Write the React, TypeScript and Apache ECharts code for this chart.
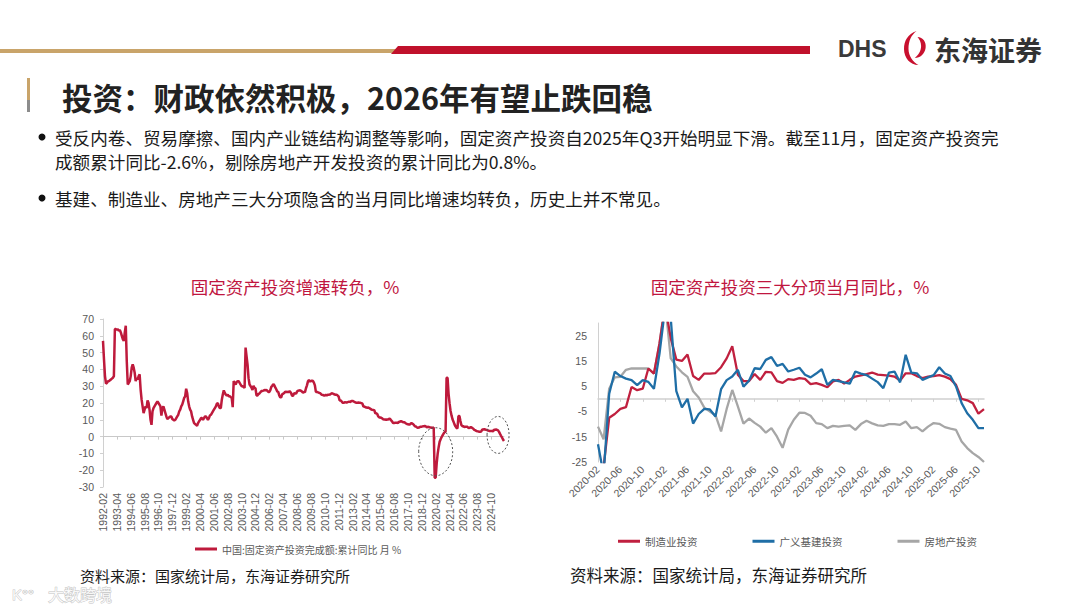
import React, { useEffect, useRef } from "react";
import * as echarts from "echarts";

// ---------- Left chart: FAI cumulative YoY (%), monthly from 1992-02 ----------
const fai1990s = [
  57, 46, 36, 31.5, 32, 33, 33, 33.5, 34, 34.5, 35,
  36, 64, 64, 63.5, 64, 63, 63.5, 62, 60, 58, 57, 62,
  66, 45, 31, 32, 33, 36, 41, 43, 41, 38, 33, 35,
  34, 36, 37, 28, 22, 18, 14, 16, 18, 17, 21.5, 20,
  16, 10, 7, 15, 17, 18, 19, 20, 21, 20, 19, 18,
  12.5, 17, 18, 16, 14, 12, 10.5, 11, 11.5, 12, 12, 10.5,
  10, 9.6, 10, 11, 12, 13, 15, 16, 18, 19, 21, 23,
  24, 28.5, 26, 21, 18, 16, 15, 12, 10, 8, 7.5, 7,
];
const fai2000s = [
  6.5, 8, 9, 10, 11, 11, 10, 11, 12, 12, 11, 10,
  11, 12.6, 13, 14, 15, 16, 17, 18, 19.6, 20, 18, 17,
  17, 22, 25, 27.5, 26, 25, 24.5, 25, 24, 24, 23.5, 23,
  17.5, 33, 32, 31, 32.5, 33, 33, 32, 31, 30, 30, 29.5,
  29, 53, 47.8, 42.8, 34.8, 31, 30.1, 29.1, 27.7, 30.3, 28.9, 28.8,
  24.5, 24.5, 25.3, 25.7, 26.4, 27.1, 27.2, 27.4, 27.7, 27.6, 27.8, 27.2,
  26.6, 26.6, 27.7, 29.6, 30.3, 31.3, 30.5, 29.3, 28.2, 26.8, 26.6, 24.5,
  23.4, 23.4, 25.3, 25.5, 25.9, 26.7, 26.6, 26.7, 26.4, 26.9, 26.8, 25.8,
  24.3, 24.3, 25.9, 25.7, 25.6, 26.8, 27.3, 27.4, 27.6, 27.2, 26.8, 26.1,
  26.5, 26.5, 28.8, 30.5, 32.9, 33.6, 32.9, 33.0, 33.3, 33.1, 32.1, 30.5,
];
const fai2010s = [
  26.6, 26.6, 26.4, 26.1, 25.9, 25.5, 24.9, 24.8, 24.5, 24.4, 24.9, 24.5,
  24.9, 24.9, 25.0, 25.4, 25.8, 25.6, 25.4, 25.0, 24.9, 24.9, 24.5, 23.8,
  21.5, 21.5, 20.9, 20.2, 20.1, 20.4, 20.4, 20.2, 20.5, 20.7, 20.7, 20.6,
  21.2, 21.2, 20.9, 20.6, 20.4, 20.1, 20.1, 20.3, 20.2, 20.1, 19.9, 19.6,
  17.9, 17.9, 17.6, 17.3, 17.2, 17.3, 17.0, 16.5, 16.1, 15.9, 15.8, 15.7,
  13.9, 13.9, 13.5, 12.0, 11.4, 11.4, 11.2, 10.9, 10.3, 10.2, 10.2, 10.0,
  10.2, 10.2, 10.7, 10.5, 9.6, 9.0, 8.1, 8.1, 8.2, 8.3, 8.3, 8.1,
  8.9, 8.9, 9.2, 8.9, 8.6, 8.6, 8.3, 7.8, 7.5, 7.3, 7.2, 7.2,
  7.9, 7.9, 7.5, 7.0, 6.1, 6.0, 5.5, 5.3, 5.4, 5.7, 5.9, 5.9,
  6.1, 6.1, 6.3, 6.1, 5.6, 5.8, 5.7, 5.5, 5.4, 5.2, 5.2, 5.4,
];
const fai2020s = [
  -24.5, -24.5, -16.1, -10.3, -6.3, -3.1, -1.6, -0.3, 0.8, 1.8, 2.6, 2.9,
  35.0, 35.0, 25.6, 19.9, 15.4, 12.6, 10.3, 8.9, 7.3, 6.1, 5.2, 4.9,
  12.2, 12.2, 9.3, 6.8, 6.2, 6.1, 5.7, 5.8, 5.9, 5.8, 5.3, 5.1,
  5.5, 5.5, 5.1, 4.7, 4.0, 3.8, 3.4, 3.2, 3.1, 2.9, 2.9, 3.0,
  4.2, 4.2, 4.5, 4.2, 4.0, 3.9, 3.6, 3.4, 3.4, 3.4, 3.3, 3.2,
  4.1, 4.1, 4.2, 4.0, 3.7, 2.8, 1.6, 0.5, -0.5, -1.7, -2.6,
];
const faiValues = [...fai1990s, ...fai2000s, ...fai2010s, ...fai2020s];
const leftStart = { year: 1992, month: 2 };
const leftSeriesName = "中国:固定资产投资完成额:累计同比 月 %";
const leftYTicks = { min: -30, max: 70, interval: 10 };

// ---------- Right chart: three components, monthly YoY (%), from 2020-02 ----------
const manufacturing = [
  -31.5, -27, -7.5, -6, -4, -3.3, 4.7, 3.4, 4, 12, 10, 22, 37, 24, 15.5, 15, 17.5, 9, 7.5, 10,
  10, 10.2, 12.5, 16, 20.8, 9.5, 7, 7, 9.8, 7.5, 10.7, 10.5, 7, 6.3, 7.8, 7.5, 8.2, 7.9, 5.8, 6.2,
  5.5, 4.6, 6.9, 7.5, 6, 7.5, 8.8, 9.3, 9.8, 10.4, 9.6, 9.4, 9.2, 8.8, 7.2, 10.1, 10.1, 9, 8.2, 8.8,
  9, 9.4, 8.8, 7.8, 5.5, 0, -0.6, -1.7, -5.9, -4.1,
];
const infrastructure = [
  -18, -30, 2, 10.7, 9, 8, 7.4, 5.4, 7.4, 6.7, 4, 18, 36, 32, 3, -3.4, 0, -9.8, -6, -4,
  -4.2, -7, 3.8, 7.4, 8.8, 11.5, 4.8, 7.2, 12.1, 11.8, 15.4, 16.5, 13, 13.8, 10.8, 11.5, 12.3, 9.5, 8.5, 10,
  11.7, 5.5, 7.5, 7, 6.5, 6, 10.8, 10, 9.4, 8, 6.6, 4.2, 10.4, 10.8, 6.5, 17.4, 10.4, 10.1, 7.5, 8.5,
  9.4, 12.5, 10, 9, 4.9, -1.7, -5.7, -8.3, -11.6, -11.6,
];
const realEstate = [
  -11, -16, 4, 8.5, 8.7, 11.5, 12, 12, 12, 12, 10, 22, 38, 16, 12.8, 10.5, 8.7, 3, 0.5, -3.5,
  -5, -6.5, -12.9, -4, 3.5, -3, -9.8, -7.8, -9.5, -11, -13.4, -11.6, -15, -19.4, -12.2, -8.3, -5.5, -5.6, -6.7, -9.6,
  -10, -11.6, -10.7, -11, -10.7, -10.5, -12.3, -10, -8.7, -9.7, -10.5, -10.7, -10, -10, -10.3, -9, -11.6, -11.2, -12.9, -11,
  -9.6, -9.9, -11.2, -11.8, -12.3, -16.9, -19.5, -21.5, -23, -25,
];
const rightStart = { year: 2020, month: 2 };
const rightSeriesNames = ["制造业投资", "广义基建投资", "房地产投资"];
const rightYTicks = { min: -25, max: 30, interval: 10 };

// ---------- Texts ----------
const pageTitle = "投资：财政依然积极，2026年有望止跌回稳";
const bulletLines = [
  "受反内卷、贸易摩擦、国内产业链结构调整等影响，固定资产投资自2025年Q3开始明显下滑。截至11月，固定资产投资完",
  "成额累计同比-2.6%，剔除房地产开发投资的累计同比为0.8%。",
  "基建、制造业、房地产三大分项隐含的当月同比增速均转负，历史上并不常见。",
];
const leftChartTitle = "固定资产投资增速转负，%";
const rightChartTitle = "固定资产投资三大分项当月同比，%";
const sourceText = "资料来源：国家统计局，东海证券研究所";

function monthLabels(start: { year: number; month: number }, n: number): string[] {
  const out: string[] = [];
  let y = start.year;
  let m = start.month;
  for (let i = 0; i < n; i++) {
    out.push(`${y}-${String(m).padStart(2, "0")}`);
    m += 1;
    if (m > 12) {
      m = 1;
      y += 1;
    }
  }
  return out;
}

const leftCategories = monthLabels(leftStart, faiValues.length);
const rightCategories = monthLabels(rightStart, manufacturing.length);

const CJK = '"Noto Sans CJK SC", "Noto Sans", sans-serif';
const NUM = 'Arial, "Liberation Sans", sans-serif';
const RED = "#BE1A3C";
const BLUE = "#1F6EA6";
const GRAY = "#A6A6A6";
const AXIS = "#C8C8C8";
const LABEL = "#595959";

echarts.graphic.registerShape(
  "dhsLogo",
  echarts.graphic.extendPath(
    "M 14 0 C 4 3 0 10 0 18 C 0 27 7 34 16 34 C 10 31 5 25 5 18 C 5 10 8 4 14 0 Z M 15 6 C 21 6 25 11 24 17 C 23 23 18 27 12 27 C 16 24 19 20 19 15 C 19 11 17 8 15 6 Z",
    {}
  )
);

export default function App() {
  const ref = useRef<HTMLDivElement>(null);

  useEffect(() => {
    if (!ref.current) return;
    const chart = echarts.init(ref.current, undefined, { renderer: "svg" });

    const staticGraphics: any[] = [
      { type: "rect", shape: { x: 0, y: 49, width: 396, height: 4 }, style: { fill: "#C9A46A" } },
      {
        type: "polygon",
        shape: { points: [[391, 54], [398, 46], [810, 46], [810, 54]] },
        style: { fill: "#C0112B" },
      },
      {
        type: "text",
        x: 838,
        y: 49,
        style: { text: "DHS", fontSize: 23, fontWeight: "bold", fontFamily: NUM, fill: "#3A3A3A", verticalAlign: "middle" },
      },
      { type: "dhsLogo", x: 904, y: 31, scaleX: 0.9, scaleY: 1, style: { fill: "#C8102E" } },
      {
        type: "text",
        x: 934,
        y: 49,
        style: { text: "东海证券", fontSize: 27, fontWeight: "bold", fontFamily: CJK, fill: "#333333", verticalAlign: "middle" },
      },
      { type: "rect", shape: { x: 27, y: 78, width: 3, height: 22 }, style: { fill: "#C9A46A" } },
      { type: "rect", shape: { x: 27, y: 100, width: 3, height: 12 }, style: { fill: "#8C8C8C" } },
      {
        type: "text",
        x: 62,
        y: 97,
        style: { text: pageTitle, fontSize: 30.5, fontWeight: "bold", fontFamily: CJK, fill: "#222222", verticalAlign: "middle" },
      },
      { type: "circle", shape: { cx: 42, cy: 137, r: 3.5 }, style: { fill: "#111111" } },
      { type: "circle", shape: { cx: 42, cy: 198, r: 3.5 }, style: { fill: "#111111" } },
      {
        type: "text",
        x: 55,
        y: 137,
        style: { text: bulletLines[0], fontSize: 17.6, fontFamily: CJK, fill: "#1A1A1A", verticalAlign: "middle" },
      },
      {
        type: "text",
        x: 55,
        y: 161,
        style: { text: bulletLines[1], fontSize: 17.6, fontFamily: CJK, fill: "#1A1A1A", verticalAlign: "middle" },
      },
      {
        type: "text",
        x: 55,
        y: 198,
        style: { text: bulletLines[2], fontSize: 17.6, fontFamily: CJK, fill: "#1A1A1A", verticalAlign: "middle" },
      },
      {
        type: "text",
        x: 295,
        y: 286,
        style: { text: leftChartTitle, fontSize: 17.5, fontFamily: CJK, fill: "#C0163F", align: "center", verticalAlign: "middle" },
      },
      {
        type: "text",
        x: 790,
        y: 286,
        style: { text: rightChartTitle, fontSize: 17.5, fontFamily: CJK, fill: "#C0163F", align: "center", verticalAlign: "middle" },
      },
      {
        type: "text",
        x: 80,
        y: 575,
        style: { text: sourceText, fontSize: 15, fontFamily: CJK, fill: "#1A1A1A", verticalAlign: "middle" },
      },
      {
        type: "text",
        x: 570,
        y: 575,
        style: { text: sourceText, fontSize: 16.5, fontFamily: CJK, fill: "#1A1A1A", verticalAlign: "middle" },
      },
      {
        type: "text",
        x: 12,
        y: 594,
        style: { text: "K°°", fontSize: 15, fontFamily: NUM, fill: "#FFFFFF", stroke: "#BDBDBD", lineWidth: 1, verticalAlign: "middle", opacity: 0.9 },
      },
      {
        type: "text",
        x: 48,
        y: 594,
        style: { text: "大数跨境", fontSize: 16, fontFamily: CJK, fill: "#FFFFFF", stroke: "#BDBDBD", lineWidth: 1, verticalAlign: "middle", opacity: 0.9 },
      },
    ];

    const option: any = {
      animation: false,
      backgroundColor: "#FFFFFF",
      grid: [
        { left: 103, top: 319, width: 401, height: 168 },
        { left: 598, top: 323, width: 386, height: 139 },
      ],
      xAxis: [
        {
          type: "category",
          gridIndex: 0,
          position: "bottom",
          data: leftCategories,
          boundaryGap: false,
          axisLine: { show: false, onZero: false },
          axisTick: { show: false },
          axisLabel: { interval: 13, rotate: 90, fontSize: 10.5, color: LABEL, fontFamily: NUM, margin: 6 },
        },
        {
          type: "category",
          gridIndex: 0,
          position: "bottom",
          data: leftCategories,
          boundaryGap: false,
          axisLine: { show: true, onZero: true, lineStyle: { color: AXIS, width: 1 } },
          axisTick: { show: true, interval: 13, length: 3, lineStyle: { color: AXIS } },
          axisLabel: { show: false },
        },
        {
          type: "category",
          gridIndex: 1,
          position: "bottom",
          data: rightCategories,
          boundaryGap: false,
          axisLine: { show: false, onZero: false },
          axisTick: { show: false },
          axisLabel: { interval: 3, rotate: 45, fontSize: 10.5, color: LABEL, fontFamily: NUM, margin: 6 },
        },
        {
          type: "category",
          gridIndex: 1,
          position: "bottom",
          data: rightCategories,
          boundaryGap: false,
          axisLine: { show: true, onZero: true, lineStyle: { color: "#D0D0D0", width: 1.5 } },
          axisTick: { show: true, interval: 3, length: 3, lineStyle: { color: "#D0D0D0" } },
          axisLabel: { show: false },
        },
      ],
      yAxis: [
        {
          type: "value",
          gridIndex: 0,
          min: leftYTicks.min,
          max: leftYTicks.max,
          interval: leftYTicks.interval,
          splitLine: { show: false },
          axisLine: { show: true, lineStyle: { color: "#D0D0D0" } },
          axisTick: { show: true, length: 3, lineStyle: { color: "#D0D0D0" } },
          axisLabel: { fontSize: 10.5, color: LABEL, fontFamily: NUM, margin: 9 },
        },
        {
          type: "value",
          gridIndex: 1,
          min: rightYTicks.min,
          max: rightYTicks.max,
          interval: rightYTicks.interval,
          splitLine: { show: false },
          axisLine: { show: true, lineStyle: { color: "#D0D0D0" } },
          axisTick: { show: false },
          axisLabel: { fontSize: 10.5, color: LABEL, fontFamily: NUM, margin: 11, showMaxLabel: false },
        },
      ],
      legend: [
        {
          data: [leftSeriesName],
          left: 190,
          top: 539,
          icon: "rect",
          itemWidth: 22,
          itemHeight: 3,
          itemGap: 6,
          textStyle: { fontSize: 10, color: LABEL, fontFamily: CJK },
        },
        {
          data: rightSeriesNames,
          left: 613,
          top: 531,
          icon: "rect",
          itemWidth: 22,
          itemHeight: 3,
          itemGap: 55,
          textStyle: { fontSize: 10.5, color: LABEL, fontFamily: CJK },
        },
      ],
      series: [
        {
          name: leftSeriesName,
          type: "line",
          xAxisIndex: 0,
          yAxisIndex: 0,
          data: faiValues,
          showSymbol: false,
          lineStyle: { color: RED, width: 2.5 },
          itemStyle: { color: RED },
        },
        {
          name: rightSeriesNames[0],
          type: "line",
          xAxisIndex: 2,
          yAxisIndex: 1,
          data: manufacturing,
          showSymbol: false,
          clip: true,
          lineStyle: { color: "#C0203F", width: 2.3 },
          itemStyle: { color: "#C0203F" },
          z: 4,
        },
        {
          name: rightSeriesNames[1],
          type: "line",
          xAxisIndex: 2,
          yAxisIndex: 1,
          data: infrastructure,
          showSymbol: false,
          clip: true,
          lineStyle: { color: BLUE, width: 2.3 },
          itemStyle: { color: BLUE },
          z: 5,
        },
        {
          name: rightSeriesNames[2],
          type: "line",
          xAxisIndex: 2,
          yAxisIndex: 1,
          data: realEstate,
          showSymbol: false,
          clip: true,
          lineStyle: { color: GRAY, width: 2.3 },
          itemStyle: { color: GRAY },
          z: 3,
        },
      ],
      graphic: staticGraphics,
    };

    chart.setOption(option);

    // Dotted ellipse annotations placed from data coordinates
    const covidIdx = leftCategories.indexOf("2020-02");
    const endIdx = leftCategories.indexOf("2025-05");
    const p1 = chart.convertToPixel({ seriesIndex: 0 }, [covidIdx, -9]) as number[];
    const p2 = chart.convertToPixel({ seriesIndex: 0 }, [endIdx, 1]) as number[];
    chart.setOption({
      graphic: [
        ...staticGraphics,
        {
          type: "ellipse",
          shape: { cx: p1[0], cy: p1[1], rx: 17, ry: 24 },
          style: { fill: "none", stroke: "#555555", lineWidth: 1, lineDash: [2, 2] },
          z: 10,
        },
        {
          type: "ellipse",
          shape: { cx: p2[0], cy: p2[1], rx: 11, ry: 18.5 },
          style: { fill: "none", stroke: "#555555", lineWidth: 1, lineDash: [2, 2] },
          z: 10,
        },
      ],
    });

    return () => {
      chart.dispose();
    };
  }, []);

  return (
    <div
      ref={ref}
      style={{ position: "fixed", left: 0, top: 0, width: 1080, height: 608, background: "#FFFFFF" }}
    />
  );
}
